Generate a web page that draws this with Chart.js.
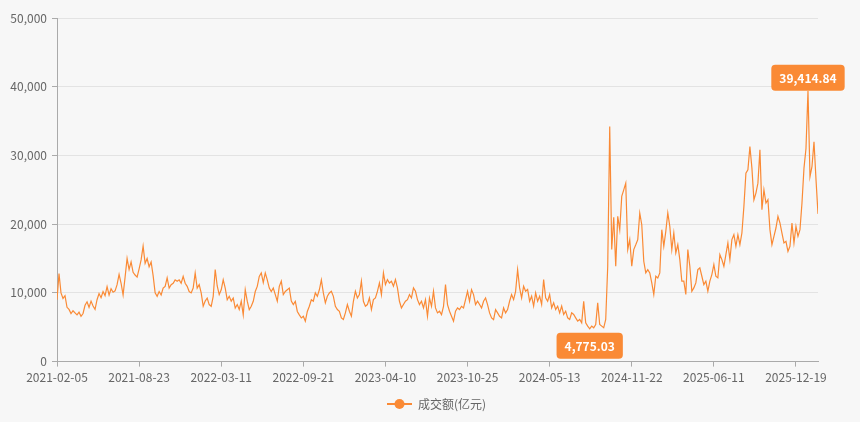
<!DOCTYPE html>
<html lang="zh">
<head>
<meta charset="utf-8">
<script src="https://cdn.jsdelivr.net/npm/chart.js@4.4.1/dist/chart.umd.min.js"></script>
<style>
  html, body { margin: 0; padding: 0; background: #f7f7f7; }
  #wrap { width: 860px; height: 422px; position: relative; }
</style>
</head>
<body>
<div id="wrap"><canvas id="chart"></canvas></div>
<script>
const tickLabels = ['2021-02-05', '2021-08-23', '2022-03-11', '2022-09-21', '2023-04-10',
                    '2023-10-25', '2024-05-13', '2024-11-22', '2025-06-11', '2025-12-19'];
const labelStep = 41;   // points between two labelled dates
const seriesName = '成交额(亿元)';

// turnover, 亿元 (~every 3rd trading day)
const turnover = [
  9000, 12800, 10000, 9200, 9600, 7900, 7600, 7000, 7400, 7100, 6800, 7200, 6600, 7000, 8200, 8700,
  7900, 8800, 8100, 7600, 9000, 9900, 9300, 10200, 9600, 10900, 9700, 10600, 10100, 10300, 11200, 12700,
  11400, 9700, 12300, 15000, 13400, 14500, 13000, 12600, 12300, 13500, 14800, 16800, 14300, 15000, 13800,
  14500, 12500, 10000, 9500, 10200, 9700, 10700, 10950, 12200, 10700, 11200, 11400, 11900, 11700, 11900, 11400,
  12400, 11400, 10950, 10200, 10000, 10700, 12900, 10700, 11200, 10000, 8050, 8800, 9250, 8300, 8050, 9500,
  13400, 11000, 9750, 10450, 11900, 10700, 9000, 9500, 8800, 9250, 7800, 8300, 7570, 8800, 6800,
  10450, 8800, 7570, 8050, 8780, 10200, 10950, 12400, 12900, 11500, 12900, 11900, 10700, 10200, 10700, 9750,
  8800, 10950, 11700, 9750, 10200, 10450, 10700, 8800, 8300, 8780, 7300, 6800, 6350, 6600, 5880, 7300,
  8050, 9000, 8780, 10000, 9500, 10450, 11900, 9990, 8540, 9500, 9990, 10230, 9500, 8050, 7570,
  7330, 6360, 6120, 7090, 8300, 7330, 6600, 8780, 10230, 9260, 9750, 11700, 8780, 8050, 8300, 9260,
  7570, 9020, 9260, 10230, 11440, 9750, 12900, 11200, 11930, 11440, 11680, 10960, 11930, 10720, 8780, 7810,
  8300, 8780, 9020, 9750, 9260, 10720, 10230, 9020, 8300, 8780, 7810, 9020, 6600, 9260, 8050,
  10230, 7810, 7090, 7330, 6840, 8050, 11200, 8300, 7330, 6600, 5880, 7330, 7810, 7570, 8050, 7810,
  9020, 10230, 8780, 10480, 9750, 8300, 8780, 8300, 7810, 8780, 9260, 8300, 7090, 6360, 6120, 7570,
  7090, 6600, 6360, 7810, 7090, 7570, 8780, 9750, 9020, 10230, 13380, 10720, 9260, 10960, 10230,
  10490, 8790, 9520, 8070, 10000, 8790, 9520, 8310, 11940, 9280, 8790, 9760, 7820, 8550, 7580, 8070,
  7100, 8070, 6860, 7340, 6370, 6130, 7100, 6860, 6370, 5890, 6130, 5650, 8790, 5650, 5160, 4775.03,
  5160, 4920, 5400, 8550, 5400, 5160, 4920, 6130, 13880, 34200, 16300, 21000, 13880, 21130, 19200, 24040,
  25000, 25970, 16300, 17750, 13880, 16300, 17000, 17750, 21600, 19920, 14600, 12910, 13390, 12910, 11450, 9760,
  12420, 12180, 12910, 19200, 16780, 18960, 21620, 19680, 16300, 18710, 15810, 17020, 14840, 11700, 11700, 9760,
  16300, 13880, 10240, 10730, 11450, 13390, 13630, 12420, 11210, 11700, 10240, 11700, 12660, 14120, 12420, 12180,
  15570, 14840, 13870, 15570, 17260, 14840, 17750, 18470, 16780, 18470, 17020, 18710, 22590, 27430, 27910, 31300,
  28150, 23550, 24520, 25970, 30810, 22100, 25010, 23070, 23550, 19200, 17020, 18230, 19440, 21130, 20170, 18710,
  17260, 17500, 16050, 16780, 20170, 17260, 19680, 18230, 19200, 23070, 28150, 31000, 39414.84, 26900, 28400, 32000,
  26500, 21500
];

const LINE_COLOR = '#fa8a35';
Chart.defaults.font.family = '"Noto Sans CJK SC", "Noto Sans", sans-serif';
Chart.defaults.font.size = 12;

// legend symbol: short line with a dot in the middle
function legendIcon() {
  const c = document.createElement('canvas');
  c.width = 25; c.height = 14;
  const g = c.getContext('2d');
  g.strokeStyle = LINE_COLOR;
  g.lineWidth = 2;
  g.beginPath(); g.moveTo(0, 7); g.lineTo(25, 7); g.stroke();
  g.fillStyle = LINE_COLOR;
  g.beginPath(); g.arc(12.5, 7, 5, 0, Math.PI * 2); g.fill();
  return c;
}

// min / max labels
const markPoints = {
  id: 'markPoints',
  afterLayout(chart) {
    // centre the legend under the plot area
    chart.legend.left = chart.chartArea.left - 2;
  },
  afterDatasetsDraw(chart) {
    const meta = chart.getDatasetMeta(0);
    const vals = turnover;
    let iMin = 0, iMax = 0;
    vals.forEach((v, i) => {
      if (v < vals[iMin]) iMin = i;
      if (v > vals[iMax]) iMax = i;
    });
    const ctx = chart.ctx;
    const fmt = v => v.toLocaleString('en-US', { minimumFractionDigits: 2, maximumFractionDigits: 2 });
    [[iMin, 'below'], [iMax, 'above']].forEach(([i, pos]) => {
      const pt = meta.data[i];
      const text = fmt(vals[i]);
      ctx.save();
      ctx.font = 'bold 12px "Noto Sans CJK SC", "Noto Sans", sans-serif';
      const w = ctx.measureText(text).width + 16;
      const h = 26;
      const y = pos === 'above' ? pt.y - h : pt.y + 4;
      ctx.fillStyle = LINE_COLOR;
      ctx.beginPath();
      ctx.roundRect(pt.x - w / 2, y, w, h, 4);
      ctx.fill();
      ctx.fillStyle = '#fff';
      ctx.textAlign = 'center';
      ctx.textBaseline = 'middle';
      ctx.fillText(text, pt.x, y + h / 2 + 1);
      ctx.restore();
    });
  }
};

const ctx = document.getElementById('chart').getContext('2d');
new Chart(ctx, {
  type: 'line',
  data: {
    datasets: [{
      label: seriesName,
      data: turnover.map((v, i) => ({ x: i, y: v })),
      borderColor: LINE_COLOR,
      backgroundColor: LINE_COLOR,
      borderWidth: 1.2,
      pointRadius: 0,
      tension: 0,
      fill: false
    }]
  },
  options: {
    responsive: true,
    maintainAspectRatio: false,
    animation: false,
    layout: { padding: { top: 18, right: 42, left: 0, bottom: 2 } },
    plugins: {
      tooltip: { enabled: false },
      legend: {
        position: 'bottom',
        labels: {
          usePointStyle: true,
          pointStyleWidth: 25,
          color: '#666',
          padding: 9,
          generateLabels: () => [{
            text: seriesName,
            pointStyle: legendIcon(),
            fillStyle: LINE_COLOR,
            strokeStyle: LINE_COLOR,
            fontColor: '#666',
            lineWidth: 0,
            hidden: false,
            datasetIndex: 0
          }]
        }
      }
    },
    scales: {
      x: {
        type: 'linear',
        min: 0,
        max: turnover.length - 1,
        afterBuildTicks: s => { s.ticks = tickLabels.map((_, k) => ({ value: k * labelStep })); },
        ticks: {
          callback: v => tickLabels[Math.round(v / labelStep)],
          autoSkip: false,
          maxRotation: 0,
          color: '#666',
          padding: 4
        },
        grid: { drawOnChartArea: false, tickLength: 5, color: '#aaa' },
        border: { color: '#aaa' }
      },
      y: {
        min: 0,
        max: 50000,
        ticks: {
          stepSize: 10000,
          callback: v => v.toLocaleString('en-US'),
          color: '#666',
          padding: 5
        },
        grid: { color: '#e3e3e3', tickColor: '#aaa', tickLength: 5 },
        border: { color: '#aaa' },
        afterFit: s => { s.width = 57; }
      }
    }
  },
  plugins: [markPoints]
});
</script>
</body>
</html>
